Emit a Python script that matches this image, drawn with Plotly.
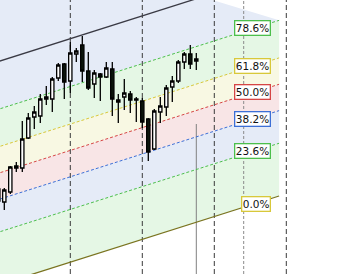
import plotly.graph_objects as go

# ---- candle data (index, open, high, low, close) ----
idx = list(range(34))
opens  = [73, 72, 82, 108, 106, 136, 157, 158, 177, 175, 196, 210, 193, 220, 229, 203, 190,
          200, 197, 205, 172, 177, 180, 175, 173, 155, 125, 162, 167, 187, 193, 212, 220, 213]
highs  = [88, 86, 108, 112, 153, 161, 168, 180, 188, 197, 211, 211, 232, 226, 238, 222, 204,
          201, 212, 212, 180, 195, 183, 177, 176, 156, 165, 177, 189, 198, 214, 222, 229, 221]
lows   = [70, 64, 80, 102, 102, 135, 145, 151, 169, 162, 193, 175, 181, 212, 192, 184, 176,
          173, 196, 158, 151, 164, 161, 152, 146, 113, 124, 151, 158, 172, 191, 205, 205, 204]
closes = [85, 84, 107, 106, 135, 156, 162, 175, 175, 195, 209, 192, 221, 223, 203, 186, 201,
          197, 206, 175, 174, 181, 174, 174, 152, 122, 163, 168, 186, 193, 212, 220, 210, 215]

# ---- fib channel definition ----
fib_start = (-6.0, -22.4)   # (index, price) of 0% line start
fib_end = (46.8, 78.0)      # (index, price) of 0% line end
fib_width = 223.5           # price distance 0% -> 100%
fib_levels = [0.0, 0.236, 0.382, 0.5, 0.618, 0.786, 1.0]
fib_labels = ["0.0%", "23.6%", "38.2%", "50.0%", "61.8%", "78.6%", ""]
fib_line_colors = ["#7a7420", "#4cbf4c", "#3d6fd6", "#d64545", "#d8c83a", "#4cbf4c", "#3a3a44"]
label_border_colors = ["#d8c83a", "#4cbf4c", "#3d6fd6", "#d64545", "#d8c83a", "#4cbf4c", ""]
band_colors = ["#e5f7e5", "#e5ebf7", "#f8e5e6", "#f8f8e3", "#e5f7e5", "#e5ebf7"]
fill_top_corner = (25.3, 293.0)

# ---- vertical markers ----
separators = [12, 24, 36, 48]
marker_light = 40.9
cursor_idx = 33
cursor_top = 150

x_range = [0.2833, 58.95]
y_range = [0, 274]

fig = go.Figure()

ks, ps = fib_start
ke, pe = fib_end

def lvl(p, L):
    return p + L * fib_width

def path(pts):
    return "M " + " L ".join(f"{x},{y}" for x, y in pts) + " Z"

shapes = []
# bands
for i in range(len(fib_levels) - 1):
    a, b = fib_levels[i], fib_levels[i + 1]
    if i == len(fib_levels) - 2:
        pts = [(ks, lvl(ps, a)), (ke, lvl(pe, a)), fill_top_corner, (ks, fill_top_corner[1])]
    else:
        pts = [(ks, lvl(ps, a)), (ke, lvl(pe, a)), (ke, lvl(pe, b)), (ks, lvl(ps, b))]
    shapes.append(dict(type="path", path=path(pts), xref="x", yref="y",
                       fillcolor=band_colors[i], line=dict(width=0), layer="below"))

# vertical separators
for s in separators:
    shapes.append(dict(type="line", x0=s, x1=s, y0=y_range[0], y1=y_range[1], xref="x", yref="y",
                       line=dict(color="#3a3a3a", width=1, dash="5px,3px"), layer="below"))
shapes.append(dict(type="line", x0=marker_light, x1=marker_light, y0=y_range[0], y1=y_range[1],
                   xref="x", yref="y",
                   line=dict(color="#8a8a8a", width=1, dash="3px,2px"), layer="below"))
shapes.append(dict(type="line", x0=cursor_idx, x1=cursor_idx, y0=cursor_top, y1=y_range[0],
                   xref="x", yref="y", line=dict(color="#808080", width=1), layer="below"))

# level lines
for L, c in zip(fib_levels, fib_line_colors):
    if L in (0.0, 1.0):
        dash, w = "solid", 1.3
    else:
        dash, w = "3px,2px", 1
    shapes.append(dict(type="line", x0=ks, x1=ke, y0=lvl(ps, L), y1=lvl(pe, L),
                       xref="x", yref="y", line=dict(color=c, width=w, dash=dash),
                       layer="below"))

# candles
fig.add_trace(go.Candlestick(
    x=idx, open=opens, high=highs, low=lows, close=closes,
    increasing=dict(line=dict(color="#000000", width=1.3), fillcolor="#ffffff"),
    decreasing=dict(line=dict(color="#000000", width=1.3), fillcolor="#0b140b"),
    whiskerwidth=0, hoverinfo="skip"))

# labels
for L, txt, c in zip(fib_levels, fib_labels, label_border_colors):
    if not txt:
        continue
    fig.add_annotation(x=ke - 1.33, y=lvl(pe, L), xref="x", yref="y",
                       text=txt, showarrow=False, xanchor="right", yanchor="top",
                       font=dict(family="DejaVu Sans", size=10.5, color="#111"),
                       bgcolor="#ffffff", bordercolor=c, borderwidth=1.3, borderpad=0.5)

fig.update_layout(
    width=352, height=274, margin=dict(l=0, r=0, t=0, b=0),
    paper_bgcolor="white", plot_bgcolor="white", showlegend=False,
    shapes=shapes, boxgap=0.22,
    xaxis=dict(visible=False, range=x_range, rangeslider=dict(visible=False), fixedrange=True),
    yaxis=dict(visible=False, range=y_range, fixedrange=True),
)

fig.write_html("out.html", config={"displayModeBar": False})
